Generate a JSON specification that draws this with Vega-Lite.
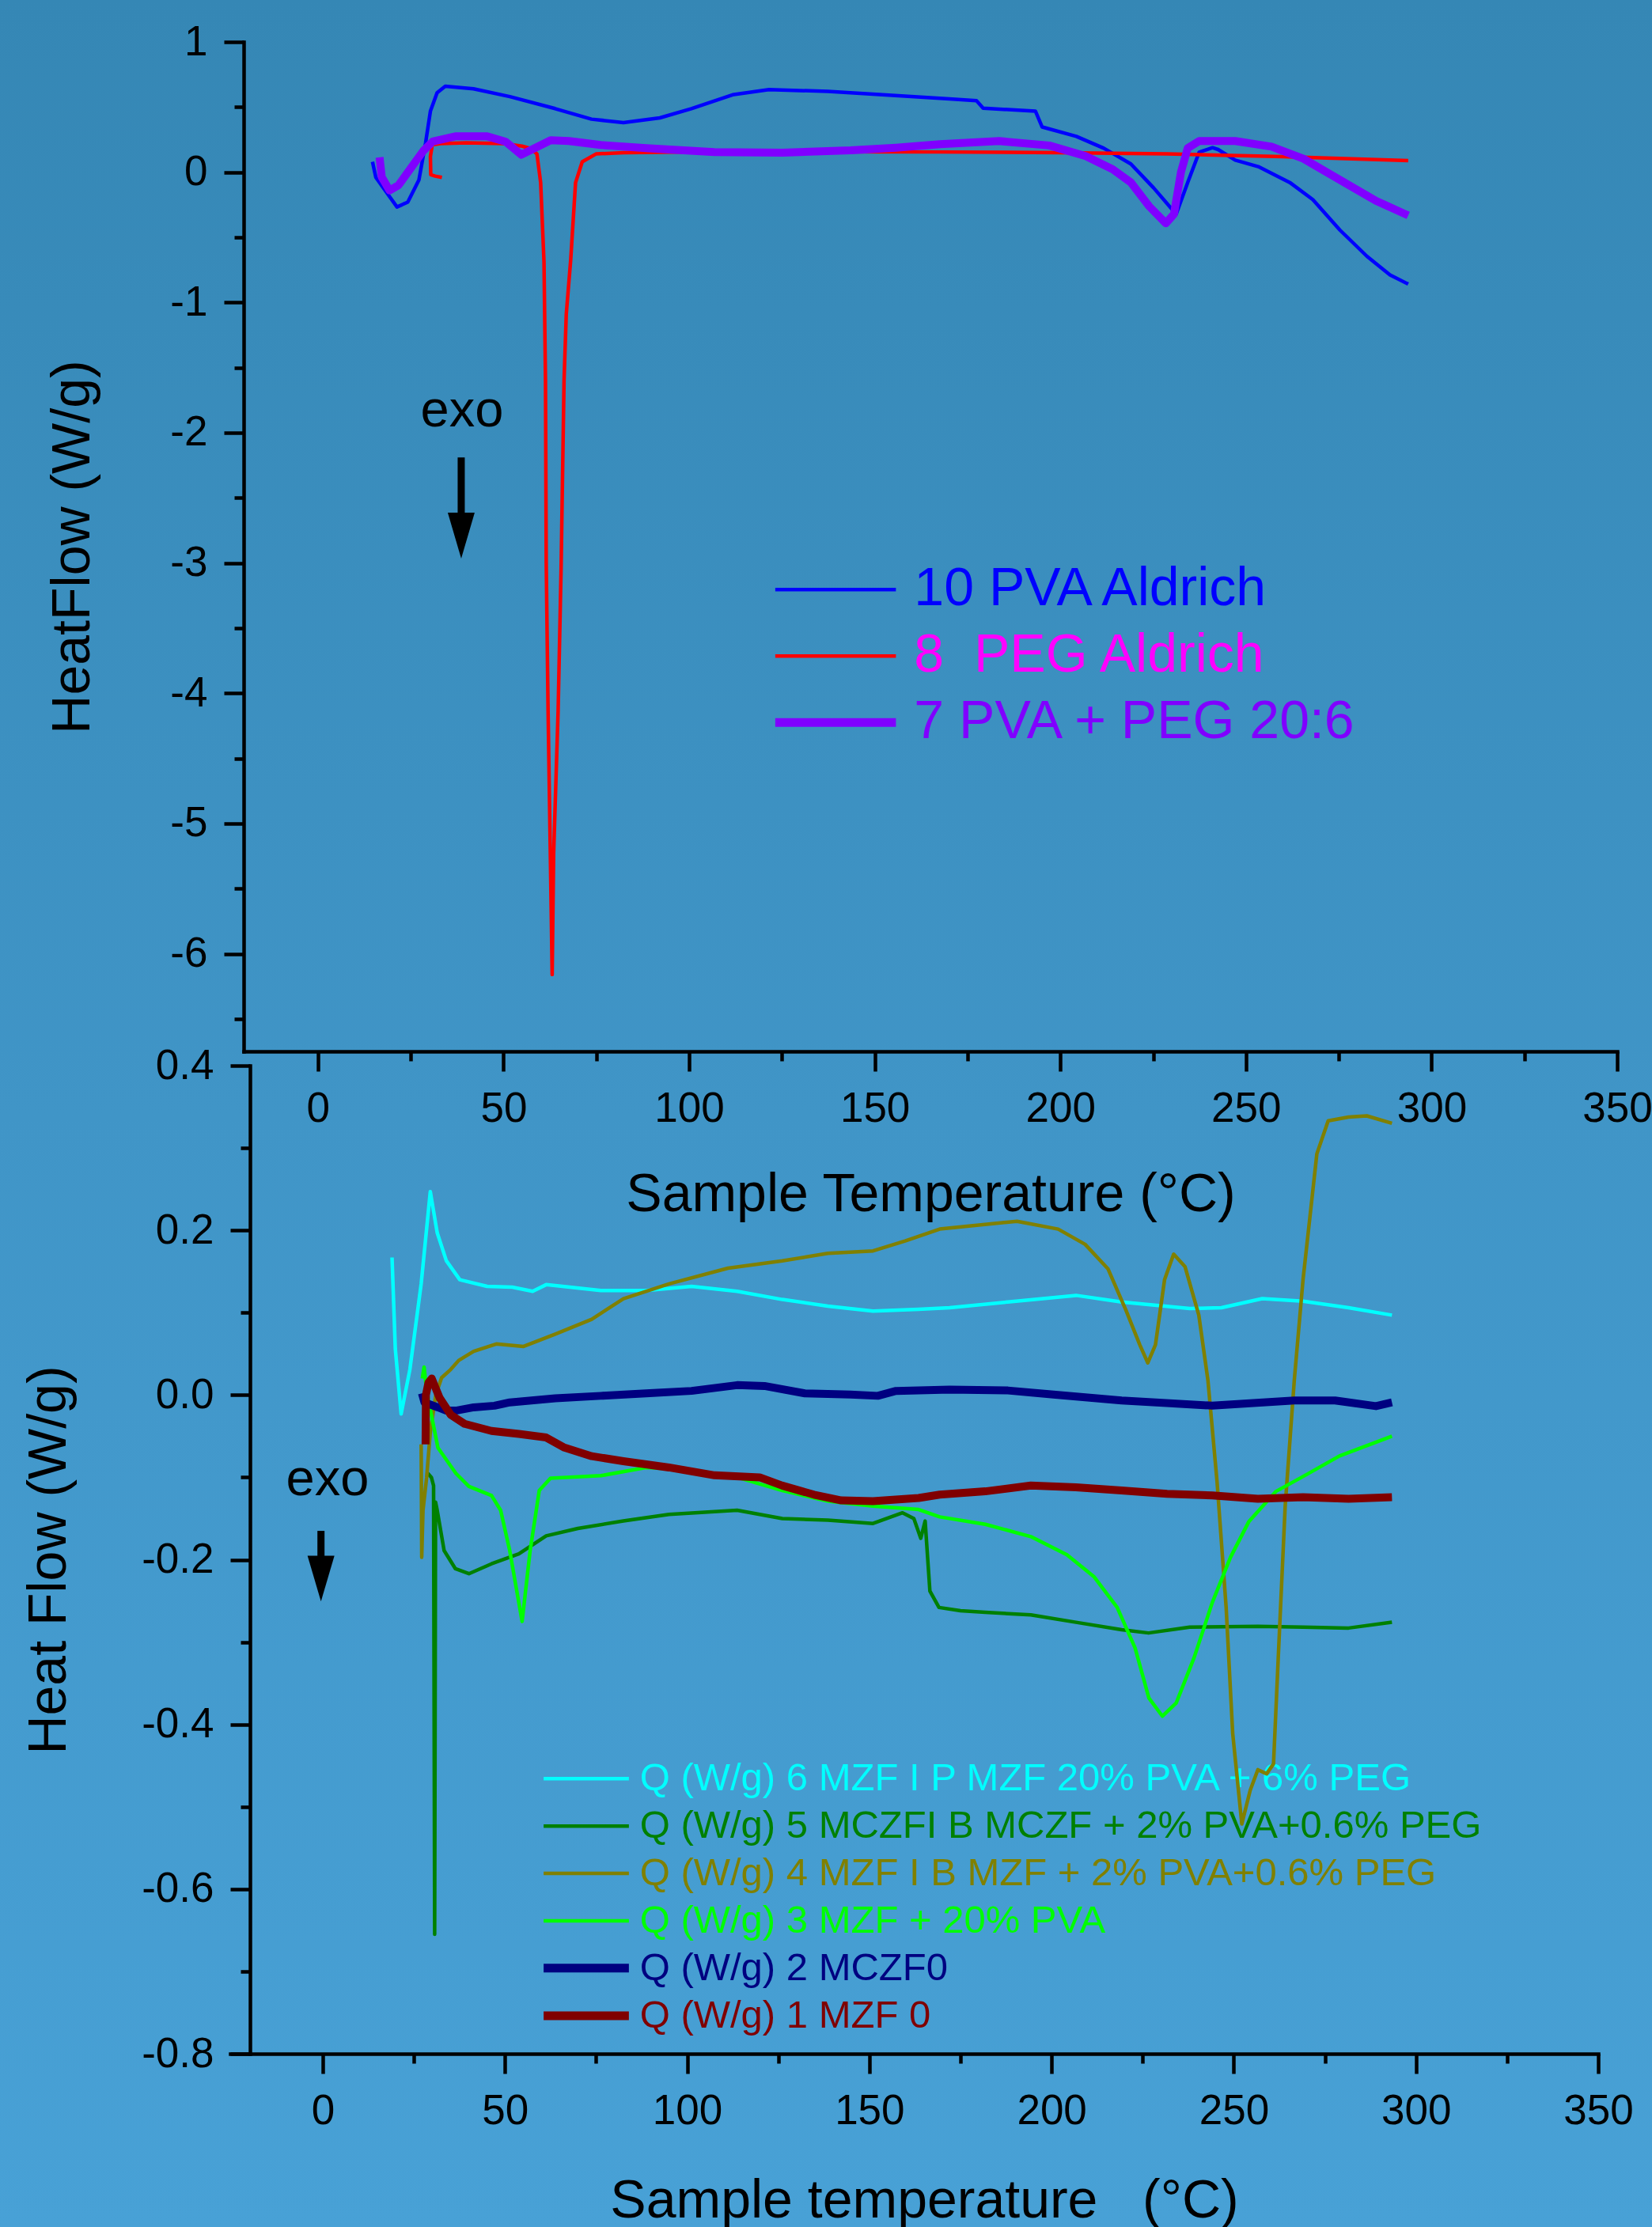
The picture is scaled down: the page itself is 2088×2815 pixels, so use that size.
{
"$schema": "https://vega.github.io/schema/vega-lite/v6.json",
"width": 2088, "height": 2815, "padding": 0, "autosize": {"type": "none"},
"background": "#3f93c5",
"config": {
  "view": {"stroke": null},
  "font": "Liberation Sans",
  "text": {"font": "Liberation Sans"},
  "axis": {"zindex": 2, "domainColor": "#000000", "domainWidth": 4.5, "domainCap": "square", "tickColor": "#000000", "tickWidth": 4.5, "tickSize": 25, "labelFont": "Liberation Sans", "labelFontSize": 53, "labelColor": "#000000", "labelPadding": 21, "labelFlush": false, "labelOverlap": false, "titleFont": "Liberation Sans", "titleFontSize": 68, "titleFontWeight": "normal", "titleColor": "#000000", "grid": false}
},
"datasets": {
"top": [
{"series":"10 PVA Aldrich","temp":14.7,"flow":0.08},{"series":"10 PVA Aldrich","temp":15.6,"flow":-0.04},{"series":"10 PVA Aldrich","temp":18.6,"flow":-0.16},{"series":"10 PVA Aldrich","temp":21.3,"flow":-0.267},{"series":"10 PVA Aldrich","temp":24.2,"flow":-0.23},{"series":"10 PVA Aldrich","temp":27.2,"flow":-0.06},{"series":"10 PVA Aldrich","temp":29.0,"flow":0.225},{"series":"10 PVA Aldrich","temp":30.3,"flow":0.468},{"series":"10 PVA Aldrich","temp":32.1,"flow":0.61},{"series":"10 PVA Aldrich","temp":34.3,"flow":0.66},{"series":"10 PVA Aldrich","temp":41.9,"flow":0.64},{"series":"10 PVA Aldrich","temp":51.7,"flow":0.58},{"series":"10 PVA Aldrich","temp":63.9,"flow":0.488},{"series":"10 PVA Aldrich","temp":73.7,"flow":0.407},{"series":"10 PVA Aldrich","temp":82.3,"flow":0.381},{"series":"10 PVA Aldrich","temp":92.1,"flow":0.417},{"series":"10 PVA Aldrich","temp":100.6,"flow":0.488},{"series":"10 PVA Aldrich","temp":111.7,"flow":0.594},{"series":"10 PVA Aldrich","temp":121.5,"flow":0.634},{"series":"10 PVA Aldrich","temp":137.4,"flow":0.62},{"series":"10 PVA Aldrich","temp":152.1,"flow":0.594},{"series":"10 PVA Aldrich","temp":170.1,"flow":0.563},{"series":"10 PVA Aldrich","temp":177.4,"flow":0.549},{"series":"10 PVA Aldrich","temp":179.2,"flow":0.492},{"series":"10 PVA Aldrich","temp":193.3,"flow":0.468},{"series":"10 PVA Aldrich","temp":195.1,"flow":0.347},{"series":"10 PVA Aldrich","temp":204.3,"flow":0.275},{"series":"10 PVA Aldrich","temp":211.7,"flow":0.184},{"series":"10 PVA Aldrich","temp":219.0,"flow":0.063},{"series":"10 PVA Aldrich","temp":225.1,"flow":-0.12},{"series":"10 PVA Aldrich","temp":231.2,"flow":-0.322},{"series":"10 PVA Aldrich","temp":234.3,"flow":-0.079},{"series":"10 PVA Aldrich","temp":237.4,"flow":0.154},{"series":"10 PVA Aldrich","temp":241.0,"flow":0.188},{"series":"10 PVA Aldrich","temp":242.5,"flow":0.174},{"series":"10 PVA Aldrich","temp":247.1,"flow":0.093},{"series":"10 PVA Aldrich","temp":253.3,"flow":0.043},{"series":"10 PVA Aldrich","temp":261.8,"flow":-0.079},{"series":"10 PVA Aldrich","temp":268.0,"flow":-0.21},{"series":"10 PVA Aldrich","temp":275.3,"flow":-0.444},{"series":"10 PVA Aldrich","temp":282.6,"flow":-0.646},{"series":"10 PVA Aldrich","temp":288.8,"flow":-0.788},{"series":"10 PVA Aldrich","temp":293.7,"flow":-0.859},
{"series":"8 PEG Aldrich","temp":33.4,"flow":-0.04},{"series":"8 PEG Aldrich","temp":31.6,"flow":-0.03},{"series":"8 PEG Aldrich","temp":30.4,"flow":-0.02},{"series":"8 PEG Aldrich","temp":30.3,"flow":0.12},{"series":"8 PEG Aldrich","temp":30.8,"flow":0.21},{"series":"8 PEG Aldrich","temp":33.0,"flow":0.22},{"series":"8 PEG Aldrich","temp":40.0,"flow":0.225},{"series":"8 PEG Aldrich","temp":50.0,"flow":0.22},{"series":"8 PEG Aldrich","temp":55.0,"flow":0.2},{"series":"8 PEG Aldrich","temp":57.5,"flow":0.18},{"series":"8 PEG Aldrich","temp":59.0,"flow":0.14},{"series":"8 PEG Aldrich","temp":60.0,"flow":-0.08},{"series":"8 PEG Aldrich","temp":60.9,"flow":-0.69},{"series":"8 PEG Aldrich","temp":61.3,"flow":-1.6},{"series":"8 PEG Aldrich","temp":61.5,"flow":-3.0},{"series":"8 PEG Aldrich","temp":62.0,"flow":-4.14},{"series":"8 PEG Aldrich","temp":62.6,"flow":-5.23},{"series":"8 PEG Aldrich","temp":63.1,"flow":-6.16},{"series":"8 PEG Aldrich","temp":63.5,"flow":-5.23},{"series":"8 PEG Aldrich","temp":64.7,"flow":-4.14},{"series":"8 PEG Aldrich","temp":65.5,"flow":-3.05},{"series":"8 PEG Aldrich","temp":66.3,"flow":-1.6},{"series":"8 PEG Aldrich","temp":66.9,"flow":-1.09},{"series":"8 PEG Aldrich","temp":68.1,"flow":-0.67},{"series":"8 PEG Aldrich","temp":69.4,"flow":-0.08},{"series":"8 PEG Aldrich","temp":71.2,"flow":0.08},{"series":"8 PEG Aldrich","temp":74.9,"flow":0.14},{"series":"8 PEG Aldrich","temp":82.3,"flow":0.15},{"series":"8 PEG Aldrich","temp":100.0,"flow":0.155},{"series":"8 PEG Aldrich","temp":130.0,"flow":0.158},{"series":"8 PEG Aldrich","temp":167.6,"flow":0.155},{"series":"8 PEG Aldrich","temp":200.0,"flow":0.15},{"series":"8 PEG Aldrich","temp":228.8,"flow":0.14},{"series":"8 PEG Aldrich","temp":260.0,"flow":0.12},{"series":"8 PEG Aldrich","temp":293.7,"flow":0.089},
{"series":"7 PVA + PEG 20:6","temp":16.6,"flow":0.114},{"series":"7 PVA + PEG 20:6","temp":17.2,"flow":-0.038},{"series":"7 PVA + PEG 20:6","temp":19.3,"flow":-0.14},{"series":"7 PVA + PEG 20:6","temp":21.7,"flow":-0.1},{"series":"7 PVA + PEG 20:6","temp":24.8,"flow":0.022},{"series":"7 PVA + PEG 20:6","temp":28.4,"flow":0.164},{"series":"7 PVA + PEG 20:6","temp":30.9,"flow":0.235},{"series":"7 PVA + PEG 20:6","temp":37.0,"flow":0.275},{"series":"7 PVA + PEG 20:6","temp":45.6,"flow":0.275},{"series":"7 PVA + PEG 20:6","temp":50.5,"flow":0.235},{"series":"7 PVA + PEG 20:6","temp":54.8,"flow":0.134},{"series":"7 PVA + PEG 20:6","temp":58.4,"flow":0.184},{"series":"7 PVA + PEG 20:6","temp":62.7,"flow":0.245},{"series":"7 PVA + PEG 20:6","temp":67.6,"flow":0.239},{"series":"7 PVA + PEG 20:6","temp":76.2,"flow":0.209},{"series":"7 PVA + PEG 20:6","temp":88.4,"flow":0.184},{"series":"7 PVA + PEG 20:6","temp":106.8,"flow":0.154},{"series":"7 PVA + PEG 20:6","temp":125.1,"flow":0.15},{"series":"7 PVA + PEG 20:6","temp":143.5,"flow":0.168},{"series":"7 PVA + PEG 20:6","temp":155.7,"flow":0.188},{"series":"7 PVA + PEG 20:6","temp":167.6,"flow":0.215},{"series":"7 PVA + PEG 20:6","temp":183.5,"flow":0.239},{"series":"7 PVA + PEG 20:6","temp":197.0,"flow":0.205},{"series":"7 PVA + PEG 20:6","temp":206.8,"flow":0.124},{"series":"7 PVA + PEG 20:6","temp":214.1,"flow":0.022},{"series":"7 PVA + PEG 20:6","temp":219.0,"flow":-0.079},{"series":"7 PVA + PEG 20:6","temp":223.9,"flow":-0.261},{"series":"7 PVA + PEG 20:6","temp":228.4,"flow":-0.393},{"series":"7 PVA + PEG 20:6","temp":230.6,"flow":-0.322},{"series":"7 PVA + PEG 20:6","temp":232.5,"flow":0.002},{"series":"7 PVA + PEG 20:6","temp":234.3,"flow":0.184},{"series":"7 PVA + PEG 20:6","temp":237.4,"flow":0.239},{"series":"7 PVA + PEG 20:6","temp":247.1,"flow":0.239},{"series":"7 PVA + PEG 20:6","temp":256.9,"flow":0.196},{"series":"7 PVA + PEG 20:6","temp":265.5,"flow":0.103},{"series":"7 PVA + PEG 20:6","temp":275.3,"flow":-0.059},{"series":"7 PVA + PEG 20:6","temp":285.1,"flow":-0.221},{"series":"7 PVA + PEG 20:6","temp":293.7,"flow":-0.332}
],
"bottom": [
{"series":"Q (W/g) 6 MZF I P MZF 20% PVA + 6% PEG","temp":19.0,"flow":0.167},{"series":"Q (W/g) 6 MZF I P MZF 20% PVA + 6% PEG","temp":19.9,"flow":0.056},{"series":"Q (W/g) 6 MZF I P MZF 20% PVA + 6% PEG","temp":21.5,"flow":-0.023},{"series":"Q (W/g) 6 MZF I P MZF 20% PVA + 6% PEG","temp":23.9,"flow":0.031},{"series":"Q (W/g) 6 MZF I P MZF 20% PVA + 6% PEG","temp":27.0,"flow":0.135},{"series":"Q (W/g) 6 MZF I P MZF 20% PVA + 6% PEG","temp":29.5,"flow":0.247},{"series":"Q (W/g) 6 MZF I P MZF 20% PVA + 6% PEG","temp":31.4,"flow":0.197},{"series":"Q (W/g) 6 MZF I P MZF 20% PVA + 6% PEG","temp":33.9,"flow":0.163},{"series":"Q (W/g) 6 MZF I P MZF 20% PVA + 6% PEG","temp":37.6,"flow":0.14},{"series":"Q (W/g) 6 MZF I P MZF 20% PVA + 6% PEG","temp":45.1,"flow":0.132},{"series":"Q (W/g) 6 MZF I P MZF 20% PVA + 6% PEG","temp":52.0,"flow":0.131},{"series":"Q (W/g) 6 MZF I P MZF 20% PVA + 6% PEG","temp":57.6,"flow":0.126},{"series":"Q (W/g) 6 MZF I P MZF 20% PVA + 6% PEG","temp":61.3,"flow":0.134},{"series":"Q (W/g) 6 MZF I P MZF 20% PVA + 6% PEG","temp":76.3,"flow":0.127},{"series":"Q (W/g) 6 MZF I P MZF 20% PVA + 6% PEG","temp":88.7,"flow":0.127},{"series":"Q (W/g) 6 MZF I P MZF 20% PVA + 6% PEG","temp":101.2,"flow":0.132},{"series":"Q (W/g) 6 MZF I P MZF 20% PVA + 6% PEG","temp":113.7,"flow":0.126},{"series":"Q (W/g) 6 MZF I P MZF 20% PVA + 6% PEG","temp":126.1,"flow":0.116},{"series":"Q (W/g) 6 MZF I P MZF 20% PVA + 6% PEG","temp":138.6,"flow":0.108},{"series":"Q (W/g) 6 MZF I P MZF 20% PVA + 6% PEG","temp":151.0,"flow":0.102},{"series":"Q (W/g) 6 MZF I P MZF 20% PVA + 6% PEG","temp":163.5,"flow":0.104},{"series":"Q (W/g) 6 MZF I P MZF 20% PVA + 6% PEG","temp":172.0,"flow":0.106},{"series":"Q (W/g) 6 MZF I P MZF 20% PVA + 6% PEG","temp":188.0,"flow":0.113},{"series":"Q (W/g) 6 MZF I P MZF 20% PVA + 6% PEG","temp":206.7,"flow":0.121},{"series":"Q (W/g) 6 MZF I P MZF 20% PVA + 6% PEG","temp":219.2,"flow":0.113},{"series":"Q (W/g) 6 MZF I P MZF 20% PVA + 6% PEG","temp":237.9,"flow":0.105},{"series":"Q (W/g) 6 MZF I P MZF 20% PVA + 6% PEG","temp":246.6,"flow":0.106},{"series":"Q (W/g) 6 MZF I P MZF 20% PVA + 6% PEG","temp":257.8,"flow":0.117},{"series":"Q (W/g) 6 MZF I P MZF 20% PVA + 6% PEG","temp":269.0,"flow":0.114},{"series":"Q (W/g) 6 MZF I P MZF 20% PVA + 6% PEG","temp":281.5,"flow":0.106},{"series":"Q (W/g) 6 MZF I P MZF 20% PVA + 6% PEG","temp":293.4,"flow":0.097},
{"series":"Q (W/g) 5 MCZFI B MCZF + 2% PVA+0.6% PEG","temp":28.8,"flow":-0.095},{"series":"Q (W/g) 5 MCZFI B MCZF + 2% PVA+0.6% PEG","temp":29.8,"flow":-0.1},{"series":"Q (W/g) 5 MCZFI B MCZF + 2% PVA+0.6% PEG","temp":30.4,"flow":-0.11},{"series":"Q (W/g) 5 MCZFI B MCZF + 2% PVA+0.6% PEG","temp":30.7,"flow":-0.655},{"series":"Q (W/g) 5 MCZFI B MCZF + 2% PVA+0.6% PEG","temp":30.95,"flow":-0.13},{"series":"Q (W/g) 5 MCZFI B MCZF + 2% PVA+0.6% PEG","temp":31.4,"flow":-0.14},{"series":"Q (W/g) 5 MCZFI B MCZF + 2% PVA+0.6% PEG","temp":33.3,"flow":-0.189},{"series":"Q (W/g) 5 MCZFI B MCZF + 2% PVA+0.6% PEG","temp":36.4,"flow":-0.211},{"series":"Q (W/g) 5 MCZFI B MCZF + 2% PVA+0.6% PEG","temp":40.1,"flow":-0.217},{"series":"Q (W/g) 5 MCZFI B MCZF + 2% PVA+0.6% PEG","temp":46.3,"flow":-0.205},{"series":"Q (W/g) 5 MCZFI B MCZF + 2% PVA+0.6% PEG","temp":53.8,"flow":-0.193},{"series":"Q (W/g) 5 MCZFI B MCZF + 2% PVA+0.6% PEG","temp":61.3,"flow":-0.171},{"series":"Q (W/g) 5 MCZFI B MCZF + 2% PVA+0.6% PEG","temp":70.0,"flow":-0.162},{"series":"Q (W/g) 5 MCZFI B MCZF + 2% PVA+0.6% PEG","temp":82.5,"flow":-0.153},{"series":"Q (W/g) 5 MCZFI B MCZF + 2% PVA+0.6% PEG","temp":95.0,"flow":-0.145},{"series":"Q (W/g) 5 MCZFI B MCZF + 2% PVA+0.6% PEG","temp":113.7,"flow":-0.14},{"series":"Q (W/g) 5 MCZFI B MCZF + 2% PVA+0.6% PEG","temp":126.1,"flow":-0.15},{"series":"Q (W/g) 5 MCZFI B MCZF + 2% PVA+0.6% PEG","temp":138.6,"flow":-0.152},{"series":"Q (W/g) 5 MCZFI B MCZF + 2% PVA+0.6% PEG","temp":151.0,"flow":-0.156},{"series":"Q (W/g) 5 MCZFI B MCZF + 2% PVA+0.6% PEG","temp":159.1,"flow":-0.143},{"series":"Q (W/g) 5 MCZFI B MCZF + 2% PVA+0.6% PEG","temp":162.2,"flow":-0.15},{"series":"Q (W/g) 5 MCZFI B MCZF + 2% PVA+0.6% PEG","temp":164.1,"flow":-0.174},{"series":"Q (W/g) 5 MCZFI B MCZF + 2% PVA+0.6% PEG","temp":165.3,"flow":-0.153},{"series":"Q (W/g) 5 MCZFI B MCZF + 2% PVA+0.6% PEG","temp":166.6,"flow":-0.238},{"series":"Q (W/g) 5 MCZFI B MCZF + 2% PVA+0.6% PEG","temp":169.1,"flow":-0.258},{"series":"Q (W/g) 5 MCZFI B MCZF + 2% PVA+0.6% PEG","temp":175.0,"flow":-0.262},{"series":"Q (W/g) 5 MCZFI B MCZF + 2% PVA+0.6% PEG","temp":181.8,"flow":-0.264},{"series":"Q (W/g) 5 MCZFI B MCZF + 2% PVA+0.6% PEG","temp":194.3,"flow":-0.267},{"series":"Q (W/g) 5 MCZFI B MCZF + 2% PVA+0.6% PEG","temp":206.7,"flow":-0.276},{"series":"Q (W/g) 5 MCZFI B MCZF + 2% PVA+0.6% PEG","temp":219.2,"flow":-0.285},{"series":"Q (W/g) 5 MCZFI B MCZF + 2% PVA+0.6% PEG","temp":226.6,"flow":-0.289},{"series":"Q (W/g) 5 MCZFI B MCZF + 2% PVA+0.6% PEG","temp":237.9,"flow":-0.282},{"series":"Q (W/g) 5 MCZFI B MCZF + 2% PVA+0.6% PEG","temp":256.6,"flow":-0.281},{"series":"Q (W/g) 5 MCZFI B MCZF + 2% PVA+0.6% PEG","temp":269.0,"flow":-0.282},{"series":"Q (W/g) 5 MCZFI B MCZF + 2% PVA+0.6% PEG","temp":281.5,"flow":-0.283},{"series":"Q (W/g) 5 MCZFI B MCZF + 2% PVA+0.6% PEG","temp":293.4,"flow":-0.276},
{"series":"Q (W/g) 4 MZF I B MZF + 2% PVA+0.6% PEG","temp":27.0,"flow":-0.06},{"series":"Q (W/g) 4 MZF I B MZF + 2% PVA+0.6% PEG","temp":27.15,"flow":-0.197},{"series":"Q (W/g) 4 MZF I B MZF + 2% PVA+0.6% PEG","temp":27.5,"flow":-0.14},{"series":"Q (W/g) 4 MZF I B MZF + 2% PVA+0.6% PEG","temp":28.5,"flow":-0.1},{"series":"Q (W/g) 4 MZF I B MZF + 2% PVA+0.6% PEG","temp":29.5,"flow":-0.045},{"series":"Q (W/g) 4 MZF I B MZF + 2% PVA+0.6% PEG","temp":31.0,"flow":0.0},{"series":"Q (W/g) 4 MZF I B MZF + 2% PVA+0.6% PEG","temp":32.6,"flow":0.021},{"series":"Q (W/g) 4 MZF I B MZF + 2% PVA+0.6% PEG","temp":35.1,"flow":0.031},{"series":"Q (W/g) 4 MZF I B MZF + 2% PVA+0.6% PEG","temp":37.3,"flow":0.042},{"series":"Q (W/g) 4 MZF I B MZF + 2% PVA+0.6% PEG","temp":41.4,"flow":0.053},{"series":"Q (W/g) 4 MZF I B MZF + 2% PVA+0.6% PEG","temp":47.6,"flow":0.062},{"series":"Q (W/g) 4 MZF I B MZF + 2% PVA+0.6% PEG","temp":55.1,"flow":0.059},{"series":"Q (W/g) 4 MZF I B MZF + 2% PVA+0.6% PEG","temp":63.8,"flow":0.074},{"series":"Q (W/g) 4 MZF I B MZF + 2% PVA+0.6% PEG","temp":73.8,"flow":0.092},{"series":"Q (W/g) 4 MZF I B MZF + 2% PVA+0.6% PEG","temp":82.5,"flow":0.117},{"series":"Q (W/g) 4 MZF I B MZF + 2% PVA+0.6% PEG","temp":95.0,"flow":0.135},{"series":"Q (W/g) 4 MZF I B MZF + 2% PVA+0.6% PEG","temp":111.2,"flow":0.154},{"series":"Q (W/g) 4 MZF I B MZF + 2% PVA+0.6% PEG","temp":126.1,"flow":0.163},{"series":"Q (W/g) 4 MZF I B MZF + 2% PVA+0.6% PEG","temp":138.6,"flow":0.172},{"series":"Q (W/g) 4 MZF I B MZF + 2% PVA+0.6% PEG","temp":151.0,"flow":0.175},{"series":"Q (W/g) 4 MZF I B MZF + 2% PVA+0.6% PEG","temp":159.8,"flow":0.187},{"series":"Q (W/g) 4 MZF I B MZF + 2% PVA+0.6% PEG","temp":169.3,"flow":0.2015},{"series":"Q (W/g) 4 MZF I B MZF + 2% PVA+0.6% PEG","temp":190.5,"flow":0.211},{"series":"Q (W/g) 4 MZF I B MZF + 2% PVA+0.6% PEG","temp":201.8,"flow":0.2015},{"series":"Q (W/g) 4 MZF I B MZF + 2% PVA+0.6% PEG","temp":209.2,"flow":0.183},{"series":"Q (W/g) 4 MZF I B MZF + 2% PVA+0.6% PEG","temp":215.5,"flow":0.153},{"series":"Q (W/g) 4 MZF I B MZF + 2% PVA+0.6% PEG","temp":220.4,"flow":0.103},{"series":"Q (W/g) 4 MZF I B MZF + 2% PVA+0.6% PEG","temp":224.2,"flow":0.061},{"series":"Q (W/g) 4 MZF I B MZF + 2% PVA+0.6% PEG","temp":226.4,"flow":0.039},{"series":"Q (W/g) 4 MZF I B MZF + 2% PVA+0.6% PEG","temp":228.5,"flow":0.061},{"series":"Q (W/g) 4 MZF I B MZF + 2% PVA+0.6% PEG","temp":231.0,"flow":0.14},{"series":"Q (W/g) 4 MZF I B MZF + 2% PVA+0.6% PEG","temp":233.5,"flow":0.171},{"series":"Q (W/g) 4 MZF I B MZF + 2% PVA+0.6% PEG","temp":236.6,"flow":0.156},{"series":"Q (W/g) 4 MZF I B MZF + 2% PVA+0.6% PEG","temp":240.4,"flow":0.097},{"series":"Q (W/g) 4 MZF I B MZF + 2% PVA+0.6% PEG","temp":242.9,"flow":0.018},{"series":"Q (W/g) 4 MZF I B MZF + 2% PVA+0.6% PEG","temp":245.4,"flow":-0.105},{"series":"Q (W/g) 4 MZF I B MZF + 2% PVA+0.6% PEG","temp":247.9,"flow":-0.258},{"series":"Q (W/g) 4 MZF I B MZF + 2% PVA+0.6% PEG","temp":249.7,"flow":-0.411},{"series":"Q (W/g) 4 MZF I B MZF + 2% PVA+0.6% PEG","temp":252.2,"flow":-0.521},{"series":"Q (W/g) 4 MZF I B MZF + 2% PVA+0.6% PEG","temp":254.5,"flow":-0.48},{"series":"Q (W/g) 4 MZF I B MZF + 2% PVA+0.6% PEG","temp":256.6,"flow":-0.455},{"series":"Q (W/g) 4 MZF I B MZF + 2% PVA+0.6% PEG","temp":259.0,"flow":-0.46},{"series":"Q (W/g) 4 MZF I B MZF + 2% PVA+0.6% PEG","temp":260.9,"flow":-0.448},{"series":"Q (W/g) 4 MZF I B MZF + 2% PVA+0.6% PEG","temp":262.2,"flow":-0.319},{"series":"Q (W/g) 4 MZF I B MZF + 2% PVA+0.6% PEG","temp":264.1,"flow":-0.135},{"series":"Q (W/g) 4 MZF I B MZF + 2% PVA+0.6% PEG","temp":266.6,"flow":0.018},{"series":"Q (W/g) 4 MZF I B MZF + 2% PVA+0.6% PEG","temp":269.0,"flow":0.14},{"series":"Q (W/g) 4 MZF I B MZF + 2% PVA+0.6% PEG","temp":272.8,"flow":0.293},{"series":"Q (W/g) 4 MZF I B MZF + 2% PVA+0.6% PEG","temp":275.9,"flow":0.333},{"series":"Q (W/g) 4 MZF I B MZF + 2% PVA+0.6% PEG","temp":281.5,"flow":0.3375},{"series":"Q (W/g) 4 MZF I B MZF + 2% PVA+0.6% PEG","temp":286.5,"flow":0.339},{"series":"Q (W/g) 4 MZF I B MZF + 2% PVA+0.6% PEG","temp":293.4,"flow":0.33},
{"series":"Q (W/g) 3 MZF + 20% PVA","temp":27.3,"flow":0.02},{"series":"Q (W/g) 3 MZF + 20% PVA","temp":27.8,"flow":0.034},{"series":"Q (W/g) 3 MZF + 20% PVA","temp":28.5,"flow":0.005},{"series":"Q (W/g) 3 MZF + 20% PVA","temp":29.7,"flow":-0.022},{"series":"Q (W/g) 3 MZF + 20% PVA","temp":31.6,"flow":-0.064},{"series":"Q (W/g) 3 MZF + 20% PVA","temp":36.5,"flow":-0.095},{"series":"Q (W/g) 3 MZF + 20% PVA","temp":40.1,"flow":-0.111},{"series":"Q (W/g) 3 MZF + 20% PVA","temp":46.3,"flow":-0.122},{"series":"Q (W/g) 3 MZF + 20% PVA","temp":48.8,"flow":-0.14},{"series":"Q (W/g) 3 MZF + 20% PVA","temp":51.3,"flow":-0.189},{"series":"Q (W/g) 3 MZF + 20% PVA","temp":54.7,"flow":-0.275},{"series":"Q (W/g) 3 MZF + 20% PVA","temp":56.9,"flow":-0.189},{"series":"Q (W/g) 3 MZF + 20% PVA","temp":59.4,"flow":-0.116},{"series":"Q (W/g) 3 MZF + 20% PVA","temp":62.5,"flow":-0.101},{"series":"Q (W/g) 3 MZF + 20% PVA","temp":76.3,"flow":-0.098},{"series":"Q (W/g) 3 MZF + 20% PVA","temp":88.7,"flow":-0.088},{"series":"Q (W/g) 3 MZF + 20% PVA","temp":101.2,"flow":-0.091},{"series":"Q (W/g) 3 MZF + 20% PVA","temp":113.7,"flow":-0.1},{"series":"Q (W/g) 3 MZF + 20% PVA","temp":126.1,"flow":-0.116},{"series":"Q (W/g) 3 MZF + 20% PVA","temp":138.6,"flow":-0.129},{"series":"Q (W/g) 3 MZF + 20% PVA","temp":151.0,"flow":-0.135},{"series":"Q (W/g) 3 MZF + 20% PVA","temp":163.5,"flow":-0.139},{"series":"Q (W/g) 3 MZF + 20% PVA","temp":169.3,"flow":-0.148},{"series":"Q (W/g) 3 MZF + 20% PVA","temp":181.8,"flow":-0.157},{"series":"Q (W/g) 3 MZF + 20% PVA","temp":194.3,"flow":-0.172},{"series":"Q (W/g) 3 MZF + 20% PVA","temp":204.2,"flow":-0.194},{"series":"Q (W/g) 3 MZF + 20% PVA","temp":211.7,"flow":-0.221},{"series":"Q (W/g) 3 MZF + 20% PVA","temp":218.0,"flow":-0.258},{"series":"Q (W/g) 3 MZF + 20% PVA","temp":222.9,"flow":-0.307},{"series":"Q (W/g) 3 MZF + 20% PVA","temp":226.7,"flow":-0.368},{"series":"Q (W/g) 3 MZF + 20% PVA","temp":230.4,"flow":-0.39},{"series":"Q (W/g) 3 MZF + 20% PVA","temp":234.2,"flow":-0.374},{"series":"Q (W/g) 3 MZF + 20% PVA","temp":239.1,"flow":-0.319},{"series":"Q (W/g) 3 MZF + 20% PVA","temp":244.1,"flow":-0.252},{"series":"Q (W/g) 3 MZF + 20% PVA","temp":249.1,"flow":-0.197},{"series":"Q (W/g) 3 MZF + 20% PVA","temp":254.1,"flow":-0.154},{"series":"Q (W/g) 3 MZF + 20% PVA","temp":261.6,"flow":-0.117},{"series":"Q (W/g) 3 MZF + 20% PVA","temp":269.0,"flow":-0.099},{"series":"Q (W/g) 3 MZF + 20% PVA","temp":279.0,"flow":-0.074},{"series":"Q (W/g) 3 MZF + 20% PVA","temp":293.4,"flow":-0.05},
{"series":"Q (W/g) 2 MCZF0","temp":27.2,"flow":0.002},{"series":"Q (W/g) 2 MCZF0","temp":27.9,"flow":-0.009},{"series":"Q (W/g) 2 MCZF0","temp":31.6,"flow":-0.015},{"series":"Q (W/g) 2 MCZF0","temp":33.9,"flow":-0.019},{"series":"Q (W/g) 2 MCZF0","temp":36.5,"flow":-0.019},{"series":"Q (W/g) 2 MCZF0","temp":41.4,"flow":-0.015},{"series":"Q (W/g) 2 MCZF0","temp":47.1,"flow":-0.013},{"series":"Q (W/g) 2 MCZF0","temp":51.3,"flow":-0.009},{"series":"Q (W/g) 2 MCZF0","temp":63.8,"flow":-0.004},{"series":"Q (W/g) 2 MCZF0","temp":76.3,"flow":-0.001},{"series":"Q (W/g) 2 MCZF0","temp":88.7,"flow":0.002},{"series":"Q (W/g) 2 MCZF0","temp":101.2,"flow":0.005},{"series":"Q (W/g) 2 MCZF0","temp":113.7,"flow":0.012},{"series":"Q (W/g) 2 MCZF0","temp":121.2,"flow":0.011},{"series":"Q (W/g) 2 MCZF0","temp":132.3,"flow":0.002},{"series":"Q (W/g) 2 MCZF0","temp":144.8,"flow":0.0005},{"series":"Q (W/g) 2 MCZF0","temp":152.3,"flow":-0.001},{"series":"Q (W/g) 2 MCZF0","temp":157.3,"flow":0.005},{"series":"Q (W/g) 2 MCZF0","temp":172.0,"flow":0.0066},{"series":"Q (W/g) 2 MCZF0","temp":188.0,"flow":0.0055},{"series":"Q (W/g) 2 MCZF0","temp":200.5,"flow":0.0006},{"series":"Q (W/g) 2 MCZF0","temp":219.2,"flow":-0.0067},{"series":"Q (W/g) 2 MCZF0","temp":244.1,"flow":-0.0129},{"series":"Q (W/g) 2 MCZF0","temp":266.6,"flow":-0.0067},{"series":"Q (W/g) 2 MCZF0","temp":277.8,"flow":-0.0067},{"series":"Q (W/g) 2 MCZF0","temp":289.0,"flow":-0.0135},{"series":"Q (W/g) 2 MCZF0","temp":293.4,"flow":-0.009},
{"series":"Q (W/g) 1 MZF 0","temp":28.2,"flow":-0.06},{"series":"Q (W/g) 1 MZF 0","temp":28.3,"flow":0.0},{"series":"Q (W/g) 1 MZF 0","temp":29.0,"flow":0.015},{"series":"Q (W/g) 1 MZF 0","temp":29.9,"flow":0.02},{"series":"Q (W/g) 1 MZF 0","temp":32.0,"flow":-0.003},{"series":"Q (W/g) 1 MZF 0","temp":35.1,"flow":-0.024},{"series":"Q (W/g) 1 MZF 0","temp":38.9,"flow":-0.035},{"series":"Q (W/g) 1 MZF 0","temp":46.3,"flow":-0.0436},{"series":"Q (W/g) 1 MZF 0","temp":53.8,"flow":-0.0473},{"series":"Q (W/g) 1 MZF 0","temp":61.3,"flow":-0.0516},{"series":"Q (W/g) 1 MZF 0","temp":66.3,"flow":-0.0639},{"series":"Q (W/g) 1 MZF 0","temp":73.8,"flow":-0.0743},{"series":"Q (W/g) 1 MZF 0","temp":82.5,"flow":-0.0804},{"series":"Q (W/g) 1 MZF 0","temp":95.0,"flow":-0.088},{"series":"Q (W/g) 1 MZF 0","temp":107.5,"flow":-0.0975},{"series":"Q (W/g) 1 MZF 0","temp":119.9,"flow":-0.1},{"series":"Q (W/g) 1 MZF 0","temp":126.1,"flow":-0.11},{"series":"Q (W/g) 1 MZF 0","temp":134.8,"flow":-0.121},{"series":"Q (W/g) 1 MZF 0","temp":142.3,"flow":-0.128},{"series":"Q (W/g) 1 MZF 0","temp":151.0,"flow":-0.129},{"series":"Q (W/g) 1 MZF 0","temp":163.5,"flow":-0.125},{"series":"Q (W/g) 1 MZF 0","temp":169.3,"flow":-0.121},{"series":"Q (W/g) 1 MZF 0","temp":181.8,"flow":-0.117},{"series":"Q (W/g) 1 MZF 0","temp":194.3,"flow":-0.11},{"series":"Q (W/g) 1 MZF 0","temp":206.7,"flow":-0.112},{"series":"Q (W/g) 1 MZF 0","temp":219.2,"flow":-0.116},{"series":"Q (W/g) 1 MZF 0","temp":231.7,"flow":-0.12},{"series":"Q (W/g) 1 MZF 0","temp":244.1,"flow":-0.122},{"series":"Q (W/g) 1 MZF 0","temp":256.6,"flow":-0.126},{"series":"Q (W/g) 1 MZF 0","temp":269.0,"flow":-0.124},{"series":"Q (W/g) 1 MZF 0","temp":281.5,"flow":-0.126},{"series":"Q (W/g) 1 MZF 0","temp":293.4,"flow":-0.124}
]
},
"layer": [
{
  "data": {"values": [{}]},
  "mark": {"type": "rect", "fill": {"gradient": "linear", "x1": 0, "y1": 0, "x2": 0, "y2": 1, "stops": [{"offset": 0, "color": "#3587b5"}, {"offset": 0.5, "color": "#4095c7"}, {"offset": 1, "color": "#48a1d6"}]}, "strokeWidth": 0},
  "encoding": {}
},
{
  "layer": [
    {"data": {"values": [{}]},
     "mark": {"type": "text", "text": "exo", "fontSize": 65, "color": "#000000", "align": "center", "baseline": "alphabetic"},
     "encoding": {
       "x": {"datum": 38.8, "type": "quantitative", "axis": {"zindex": 2, "orient": "bottom", "offset": -1486, "values": [25, 75, 125, 175, 225, 275, 325], "tickSize": 12, "labels": false, "domain": false, "title": null}},
       "y": {"datum": -1.951, "type": "quantitative", "axis": {"zindex": 2, "orient": "left", "offset": -308, "values": [-6.5, -5.5, -4.5, -3.5, -2.5, -1.5, -0.5, 0.5], "tickSize": 12, "labels": false, "domain": false, "title": null}}
     }},
    {"data": {"values": [{}]},
     "mark": {"type": "rule", "color": "#000000", "strokeWidth": 9},
     "encoding": {"x": {"datum": 38.6, "type": "quantitative", "axis": null}, "y": {"datum": -2.19, "type": "quantitative", "axis": null}, "y2": {"datum": -2.69}}},
    {"data": {"values": [{}]},
     "mark": {"type": "point", "shape": "M -1 -1.7 L 1 -1.7 L 0 1.7 Z", "filled": true, "color": "#000000", "opacity": 1, "size": 1156, "strokeWidth": 0},
     "encoding": {"x": {"datum": 38.6, "type": "quantitative", "axis": null}, "y": {"datum": -2.79, "type": "quantitative", "axis": null}}},
    {"data": {"values": [{}]}, "mark": {"type": "rule", "color": "#0000ff", "strokeWidth": 4.5},
     "encoding": {"x": {"datum": 123.2, "type": "quantitative", "axis": null}, "x2": {"datum": 155.7}, "y": {"datum": -3.204, "type": "quantitative", "axis": null}}},
    {"data": {"values": [{}]}, "mark": {"type": "text", "text": "10 PVA Aldrich", "color": "#0000ff", "fontSize": 68, "align": "left", "baseline": "middle"},
     "encoding": {"x": {"datum": 160.6, "type": "quantitative", "axis": null}, "y": {"datum": -3.204, "type": "quantitative", "axis": null}}},
    {"data": {"values": [{}]}, "mark": {"type": "rule", "color": "#ff0000", "strokeWidth": 4.5},
     "encoding": {"x": {"datum": 123.2, "type": "quantitative", "axis": null}, "x2": {"datum": 155.7}, "y": {"datum": -3.714, "type": "quantitative", "axis": null}}},
    {"data": {"values": [{}]}, "mark": {"type": "text", "text": "8\u00a0 PEG Aldrich", "color": "#ff00ff", "fontSize": 68, "align": "left", "baseline": "middle"},
     "encoding": {"x": {"datum": 160.6, "type": "quantitative", "axis": null}, "y": {"datum": -3.714, "type": "quantitative", "axis": null}}},
    {"data": {"values": [{}]}, "mark": {"type": "rule", "color": "#8000ff", "strokeWidth": 11},
     "encoding": {"x": {"datum": 123.2, "type": "quantitative", "axis": null}, "x2": {"datum": 155.7}, "y": {"datum": -4.225, "type": "quantitative", "axis": null}}},
    {"data": {"values": [{}]}, "mark": {"type": "text", "text": "7 PVA + PEG 20:6", "color": "#8000ff", "fontSize": 68, "align": "left", "baseline": "middle"},
     "encoding": {"x": {"datum": 160.6, "type": "quantitative", "axis": null}, "y": {"datum": -4.225, "type": "quantitative", "axis": null}}},
    {"data": {"name": "top"},
     "mark": {"type": "line", "strokeJoin": "round"},
     "encoding": {
       "x": {"field": "temp", "type": "quantitative",
             "scale": {"domain": [-20, 350], "range": [308, 2044], "nice": false, "zero": false},
             "axis": {"zindex": 2, "orient": "bottom", "offset": -1486, "values": [0, 50, 100, 150, 200, 250, 300, 350], "format": "d", "title": "Sample Temperature (°C)", "titleY": 201, "titleBaseline": "alphabetic"}},
       "y": {"field": "flow", "type": "quantitative",
             "scale": {"domain": [-6.75, 1], "range": [1329, 53], "nice": false, "zero": false},
             "axis": {"zindex": 2, "orient": "left", "offset": -308, "values": [-6, -5, -4, -3, -2, -1, 0, 1], "format": "d", "labelExpr": "replace(datum.label, '\u2212', '-')", "title": "HeatFlow (W/g)", "titleX": -196, "titleBaseline": "alphabetic"}},
       "color": {"field": "series", "type": "nominal", "scale": {"domain": ["10 PVA Aldrich", "8 PEG Aldrich", "7 PVA + PEG 20:6"], "range": ["#0000ff", "#ff0000", "#8000ff"]}, "legend": null},
       "strokeWidth": {"condition": {"test": "datum.series === '7 PVA + PEG 20:6'", "value": 10}, "value": 4.5},
       "order": {"value": null}
     }}
  ],
  "resolve": {"axis": {"x": "independent", "y": "independent"}}
},
{
  "layer": [
    {"data": {"values": [{}]},
     "mark": {"type": "text", "text": "exo", "fontSize": 65, "color": "#000000", "align": "center", "baseline": "alphabetic"},
     "encoding": {
       "x": {"datum": 1.3, "type": "quantitative", "axis": {"zindex": 2, "orient": "bottom", "offset": -219, "values": [25, 75, 125, 175, 225, 275, 325], "tickSize": 12, "labels": false, "domain": false, "title": null}},
       "y": {"datum": -0.122, "type": "quantitative", "axis": {"zindex": 2, "orient": "left", "offset": -316, "values": [-0.7, -0.5, -0.3, -0.1, 0.1, 0.3], "tickSize": 12, "labels": false, "domain": false, "title": null}}
     }},
    {"data": {"values": [{}]},
     "mark": {"type": "rule", "color": "#000000", "strokeWidth": 9},
     "encoding": {"x": {"datum": -0.5, "type": "quantitative", "axis": null}, "y": {"datum": -0.165, "type": "quantitative", "axis": null}, "y2": {"datum": -0.2085}}},
    {"data": {"values": [{}]},
     "mark": {"type": "point", "shape": "M -1 -1.7 L 1 -1.7 L 0 1.7 Z", "filled": true, "color": "#000000", "opacity": 1, "size": 1156, "strokeWidth": 0},
     "encoding": {"x": {"datum": -0.5, "type": "quantitative", "axis": null}, "y": {"datum": -0.2229, "type": "quantitative", "axis": null}}},
    {"data": {"values": [{}]}, "mark": {"type": "rule", "color": "#00ffff", "strokeWidth": 4.5},
     "encoding": {"x": {"datum": 60.6, "type": "quantitative", "axis": null}, "x2": {"datum": 84.0}, "y": {"datum": -0.466, "type": "quantitative", "axis": null}}},
    {"data": {"values": [{}]}, "mark": {"type": "text", "text": "Q (W/g) 6 MZF I P MZF 20% PVA + 6% PEG", "color": "#00ffff", "fontSize": 49, "align": "left", "baseline": "middle"},
     "encoding": {"x": {"datum": 87.0, "type": "quantitative", "axis": null}, "y": {"datum": -0.466, "type": "quantitative", "axis": null}}},
    {"data": {"values": [{}]}, "mark": {"type": "rule", "color": "#008000", "strokeWidth": 4.5},
     "encoding": {"x": {"datum": 60.6, "type": "quantitative", "axis": null}, "x2": {"datum": 84.0}, "y": {"datum": -0.5235, "type": "quantitative", "axis": null}}},
    {"data": {"values": [{}]}, "mark": {"type": "text", "text": "Q (W/g) 5 MCZFI B MCZF + 2% PVA+0.6% PEG", "color": "#008000", "fontSize": 49, "align": "left", "baseline": "middle"},
     "encoding": {"x": {"datum": 87.0, "type": "quantitative", "axis": null}, "y": {"datum": -0.5235, "type": "quantitative", "axis": null}}},
    {"data": {"values": [{}]}, "mark": {"type": "rule", "color": "#808000", "strokeWidth": 4.5},
     "encoding": {"x": {"datum": 60.6, "type": "quantitative", "axis": null}, "x2": {"datum": 84.0}, "y": {"datum": -0.581, "type": "quantitative", "axis": null}}},
    {"data": {"values": [{}]}, "mark": {"type": "text", "text": "Q (W/g) 4 MZF I B MZF + 2% PVA+0.6% PEG", "color": "#808000", "fontSize": 49, "align": "left", "baseline": "middle"},
     "encoding": {"x": {"datum": 87.0, "type": "quantitative", "axis": null}, "y": {"datum": -0.581, "type": "quantitative", "axis": null}}},
    {"data": {"values": [{}]}, "mark": {"type": "rule", "color": "#00ff00", "strokeWidth": 4.5},
     "encoding": {"x": {"datum": 60.6, "type": "quantitative", "axis": null}, "x2": {"datum": 84.0}, "y": {"datum": -0.6385, "type": "quantitative", "axis": null}}},
    {"data": {"values": [{}]}, "mark": {"type": "text", "text": "Q (W/g) 3 MZF + 20% PVA", "color": "#00ff00", "fontSize": 49, "align": "left", "baseline": "middle"},
     "encoding": {"x": {"datum": 87.0, "type": "quantitative", "axis": null}, "y": {"datum": -0.6385, "type": "quantitative", "axis": null}}},
    {"data": {"values": [{}]}, "mark": {"type": "rule", "color": "#000080", "strokeWidth": 11},
     "encoding": {"x": {"datum": 60.6, "type": "quantitative", "axis": null}, "x2": {"datum": 84.0}, "y": {"datum": -0.696, "type": "quantitative", "axis": null}}},
    {"data": {"values": [{}]}, "mark": {"type": "text", "text": "Q (W/g) 2 MCZF0", "color": "#000080", "fontSize": 49, "align": "left", "baseline": "middle"},
     "encoding": {"x": {"datum": 87.0, "type": "quantitative", "axis": null}, "y": {"datum": -0.696, "type": "quantitative", "axis": null}}},
    {"data": {"values": [{}]}, "mark": {"type": "rule", "color": "#800000", "strokeWidth": 11},
     "encoding": {"x": {"datum": 60.6, "type": "quantitative", "axis": null}, "x2": {"datum": 84.0}, "y": {"datum": -0.754, "type": "quantitative", "axis": null}}},
    {"data": {"values": [{}]}, "mark": {"type": "text", "text": "Q (W/g) 1 MZF 0", "color": "#800000", "fontSize": 49, "align": "left", "baseline": "middle"},
     "encoding": {"x": {"datum": 87.0, "type": "quantitative", "axis": null}, "y": {"datum": -0.754, "type": "quantitative", "axis": null}}},
    {"data": {"name": "bottom"},
     "mark": {"type": "line", "strokeJoin": "round"},
     "encoding": {
       "x": {"field": "temp", "type": "quantitative",
             "scale": {"domain": [-25.4, 350], "range": [291, 2020], "nice": false, "zero": false},
             "axis": {"zindex": 2, "orient": "bottom", "offset": -219, "values": [0, 50, 100, 150, 200, 250, 300, 350], "format": "d", "title": "Sample temperature\u00a0\u00a0\u00a0(°C)", "titleX": 1168, "titleY": 206, "titleBaseline": "alphabetic"}},
       "y": {"field": "flow", "type": "quantitative",
             "scale": {"domain": [-0.8, 0.4], "range": [2596, 1347], "nice": false, "zero": false},
             "axis": {"zindex": 2, "orient": "left", "offset": -316, "values": [-0.8, -0.6, -0.4, -0.2, 0, 0.2, 0.4], "format": ".1f", "labelExpr": "replace(datum.label, '\u2212', '-')", "title": "Heat Flow (W/g)", "titleX": -234, "titleBaseline": "alphabetic"}},
       "color": {"field": "series", "type": "nominal", "scale": {"domain": ["Q (W/g) 6 MZF I P MZF 20% PVA + 6% PEG", "Q (W/g) 5 MCZFI B MCZF + 2% PVA+0.6% PEG", "Q (W/g) 4 MZF I B MZF + 2% PVA+0.6% PEG", "Q (W/g) 3 MZF + 20% PVA", "Q (W/g) 2 MCZF0", "Q (W/g) 1 MZF 0"], "range": ["#00ffff", "#008000", "#808000", "#00ff00", "#000080", "#800000"]}, "legend": null},
       "strokeWidth": {"condition": {"test": "datum.series === 'Q (W/g) 2 MCZF0' || datum.series === 'Q (W/g) 1 MZF 0'", "value": 10}, "value": 4.5},
       "order": {"value": null}
     }}
  ],
  "resolve": {"axis": {"x": "independent", "y": "independent"}}
}
],
"resolve": {"scale": {"x": "independent", "y": "independent", "color": "independent"}, "axis": {"x": "independent", "y": "independent"}}
}
